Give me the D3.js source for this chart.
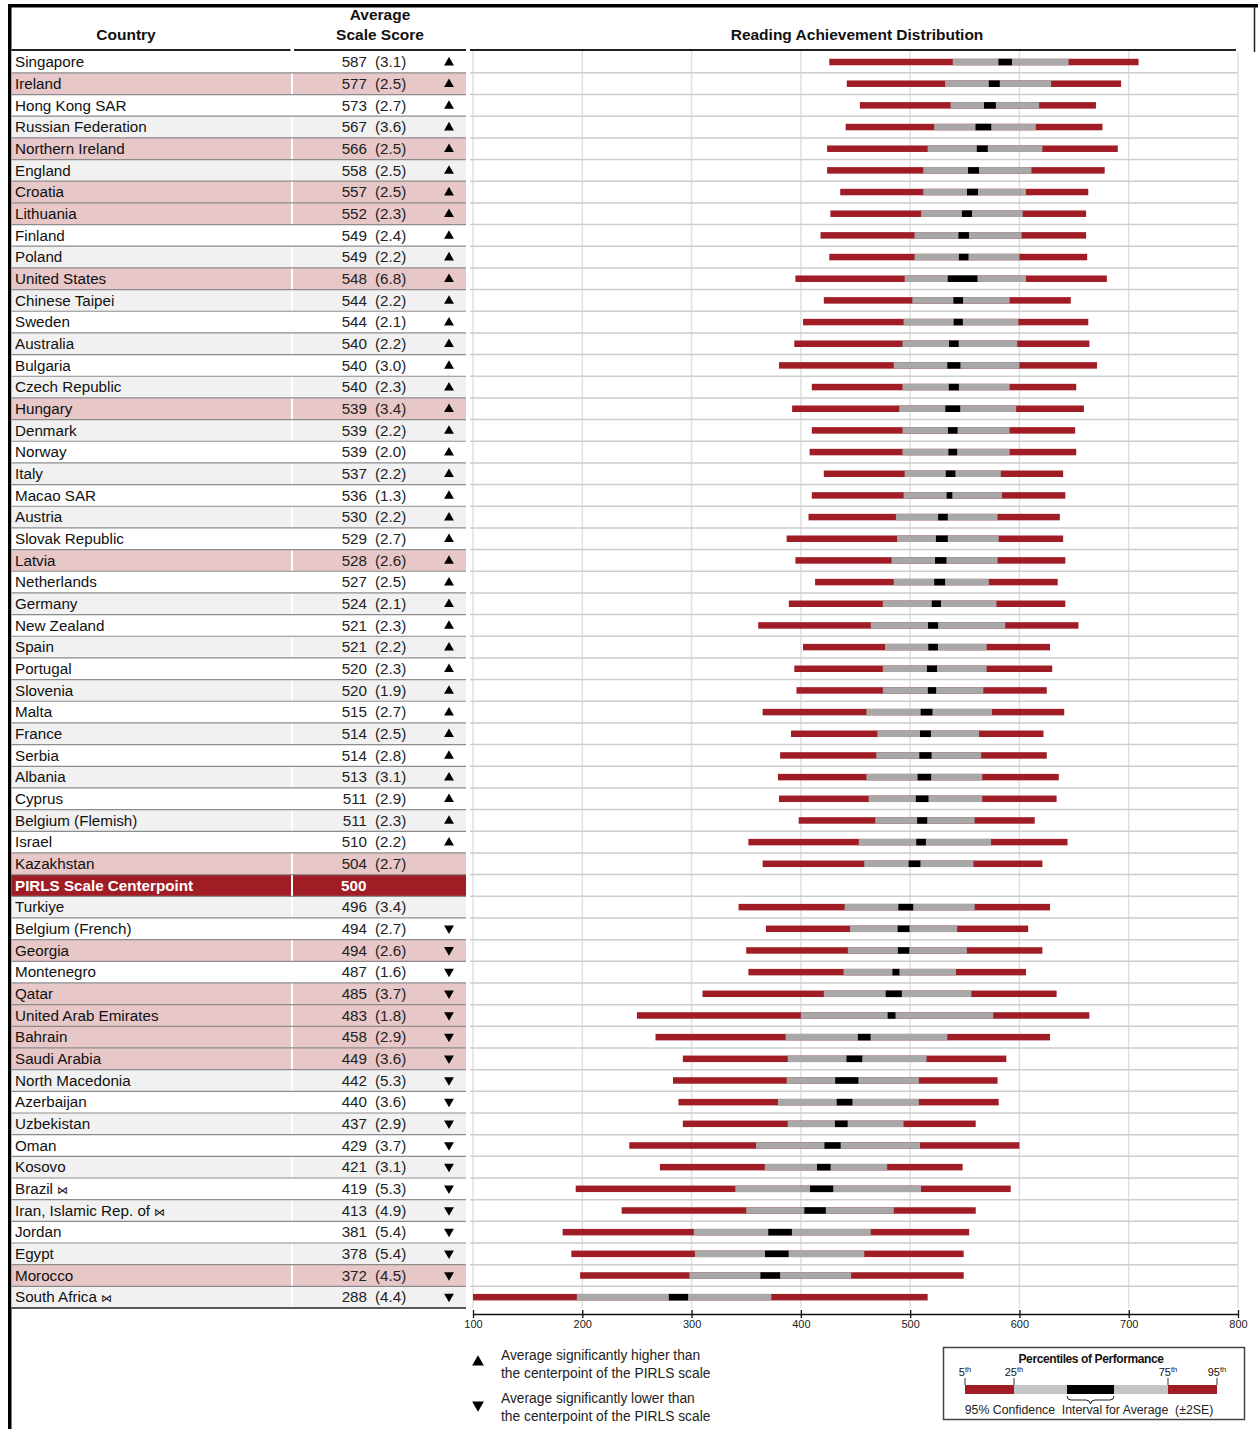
<!DOCTYPE html>
<html lang="en">
<head>
<meta charset="UTF-8">
<title>PIRLS Reading Achievement Distribution</title>
<script src="https://cdn.jsdelivr.net/npm/d3@7"></script>
<style>
  body { margin: 0; background: #fff; }
  text { font-family: "Liberation Sans", Arial, sans-serif; fill: #111; }
</style>
</head>
<body>
<svg id="chart" width="1258" height="1429"></svg>
<script>
// ---- data ----
const CENTER = "PIRLS Scale Centerpoint";
const BOWTIE = " \u22c8";
const countries = ["Singapore", "Ireland", "Hong Kong SAR", "Russian Federation", "Northern Ireland",
  "England", "Croatia", "Lithuania", "Finland", "Poland", "United States", "Chinese Taipei", "Sweden",
  "Australia", "Bulgaria", "Czech Republic", "Hungary", "Denmark", "Norway", "Italy", "Macao SAR",
  "Austria", "Slovak Republic", "Latvia", "Netherlands", "Germany", "New Zealand", "Spain", "Portugal",
  "Slovenia", "Malta", "France", "Serbia", "Albania", "Cyprus", "Belgium (Flemish)", "Israel",
  "Kazakhstan", CENTER, "Turkiye", "Belgium (French)", "Georgia", "Montenegro", "Qatar",
  "United Arab Emirates", "Bahrain", "Saudi Arabia", "North Macedonia", "Azerbaijan", "Uzbekistan",
  "Oman", "Kosovo", "Brazil \u22c8", "Iran, Islamic Rep. of \u22c8", "Jordan", "Egypt", "Morocco",
  "South Africa \u22c8"];
const means = [587, 577, 573, 567, 566, 558, 557, 552, 549, 549, 548, 544, 544, 540, 540, 540, 539, 539,
  539, 537, 536, 530, 529, 528, 527, 524, 521, 521, 520, 520, 515, 514, 514, 513, 511, 511, 510, 504,
  500, 496, 494, 494, 487, 485, 483, 458, 449, 442, 440, 437, 429, 421, 419, 413, 381, 378, 372, 288];
const ses = [3.1, 2.5, 2.7, 3.6, 2.5, 2.5, 2.5, 2.3, 2.4, 2.2, 6.8, 2.2, 2.1, 2.2, 3.0, 2.3, 3.4, 2.2,
  2.0, 2.2, 1.3, 2.2, 2.7, 2.6, 2.5, 2.1, 2.3, 2.2, 2.3, 1.9, 2.7, 2.5, 2.8, 3.1, 2.9, 2.3, 2.2, 2.7,
  null, 3.4, 2.7, 2.6, 1.6, 3.7, 1.8, 2.9, 3.6, 5.3, 3.6, 2.9, 3.7, 3.1, 5.3, 4.9, 5.4, 5.4, 4.5, 4.4];
const p5 = [426, 442, 454, 441, 424, 424, 436, 427, 418, 426, 395, 421, 402, 394, 380, 410, 392, 410,
  408, 421, 410, 407, 387, 395, 413, 389, 361, 402, 394, 396, 365, 391, 381, 379, 380, 398, 352, 365,
  null, 343, 368, 350, 352, 310, 250, 267, 292, 283, 288, 292, 243, 271, 194, 236, 182, 190, 198, 100];
const p25 = [539, 532, 537, 522, 516, 512, 512, 510, 504, 504, 495, 502, 494, 493, 485, 493, 490, 493,
  493, 495, 494, 487, 488, 483, 485, 475, 464, 477, 475, 475, 460, 470, 469, 460, 462, 468, 453, 458,
  null, 440, 445, 443, 439, 421, 400, 386, 388, 387, 379, 388, 359, 367, 340, 350, 302, 303, 298, 195];
const p75 = [645, 629, 618, 615, 621, 611, 606, 603, 602, 600, 606, 591, 599, 598, 600, 591, 597, 591,
  591, 583, 584, 580, 581, 580, 572, 579, 587, 570, 570, 567, 575, 563, 565, 566, 566, 559, 574, 558,
  null, 559, 543, 552, 542, 556, 576, 534, 515, 508, 508, 494, 509, 479, 510, 485, 464, 458, 446, 373];
const p95 = [709, 693, 670, 676, 690, 678, 663, 661, 661, 662, 680, 647, 663, 664, 671, 652, 659, 651,
  652, 640, 642, 637, 640, 642, 635, 642, 654, 628, 630, 625, 641, 622, 625, 636, 634, 614, 644, 621,
  null, 628, 608, 621, 606, 634, 664, 628, 588, 580, 581, 560, 600, 548, 592, 560, 554, 549, 549, 516];
// 1 = significantly higher than centerpoint, -1 = lower, 0 = not different
const sig = [1, 1, 1, 1, 1, 1, 1, 1, 1, 1, 1, 1, 1, 1, 1, 1, 1, 1, 1, 1, 1, 1, 1, 1, 1, 1, 1, 1, 1,
  1, 1, 1, 1, 1, 1, 1, 1, 0, 0, 0, -1, -1, -1, -1, -1, -1, -1, -1, -1, -1, -1, -1, -1, -1, -1, -1, -1, -1];
const highlighted = ["Ireland", "Northern Ireland", "Croatia", "Lithuania", "United States", "Hungary",
  "Latvia", "Kazakhstan", "Georgia", "Qatar", "United Arab Emirates", "Bahrain", "Saudi Arabia", "Morocco"];
const tickValues = [100, 200, 300, 400, 500, 600, 700, 800];

const RED = "#a01d25", GREY = "#a8a8a8", PINK = "#e7c7c8", STRIPE = "#f1f1f1";

const rows = countries.map((c, i) => ({
  name: c, i: i, mean: means[i], se: ses[i],
  p5: p5[i], p25: p25[i], p75: p75[i], p95: p95[i], sig: sig[i]
}));

const svg = d3.select("#chart");
const x = d3.scaleLinear().domain([100, 800]).range([473, 1238]);
const y = d3.scaleBand().domain(countries).range([51.2, 1308]);
const bh = y.bandwidth();
const cy = d => y(d.name) + bh / 2;
const isC = d => d.name === CENTER;

// frame
svg.append("rect").attr("x", 8).attr("y", 4).attr("width", 1250).attr("height", 3.5).attr("fill", "#000");
svg.append("rect").attr("x", 8).attr("y", 4).attr("width", 3.5).attr("height", 1425).attr("fill", "#000");
svg.append("line").attr("x1", 1254.5).attr("x2", 1254.5).attr("y1", 6).attr("y2", 52)
  .attr("stroke", "#222").attr("stroke-width", 1.5);

// table backgrounds
const bg = d => isC(d) ? RED : highlighted.includes(d.name) ? PINK : (d.i % 2 ? STRIPE : "#fff");
const bgG = svg.append("g").selectAll("g").data(rows).join("g");
bgG.append("rect").attr("x", 11.5).attr("y", d => y(d.name)).attr("width", 279.5).attr("height", bh)
  .attr("fill", bg);
bgG.append("rect").attr("x", 293).attr("y", d => y(d.name)).attr("width", 173).attr("height", bh)
  .attr("fill", bg);

// vertical grid lines in chart area
svg.append("g").selectAll("line").data(tickValues).join("line")
  .attr("x1", d => x(d)).attr("x2", d => x(d)).attr("y1", 51).attr("y2", 1308)
  .attr("stroke", "#e0e0e0").attr("stroke-width", 1.5);

// row separators
svg.append("g").selectAll("line").data(rows.slice(0, -1)).join("line")
  .attr("x1", 11.5).attr("x2", 466).attr("y1", d => y(d.name) + bh).attr("y2", d => y(d.name) + bh)
  .attr("stroke", "#8c8c8c").attr("stroke-width", 1.2);
svg.append("g").selectAll("line").data(rows.slice(0, -1)).join("line")
  .attr("x1", 470).attr("x2", 1238).attr("y1", d => y(d.name) + bh).attr("y2", d => y(d.name) + bh)
  .attr("stroke", "#cdcdcd").attr("stroke-width", 1.5);
svg.append("line").attr("x1", 11.5).attr("x2", 466).attr("y1", 1308).attr("y2", 1308)
  .attr("stroke", "#222").attr("stroke-width", 1.5);

// headers
const hdr = (tx, px, py) => svg.append("text").attr("x", px).attr("y", py).attr("dy", "0.35em")
  .attr("text-anchor", "middle").attr("font-size", 15.5).attr("font-weight", "bold").text(tx);
hdr("Country", 126, 35);
hdr("Average", 380, 15);
hdr("Scale Score", 380, 35);
hdr("Reading Achievement Distribution", 857, 35);
[[11.5, 290.5], [294, 466], [470, 1236]].forEach(s => {
  svg.append("line").attr("x1", s[0]).attr("x2", s[1]).attr("y1", 50).attr("y2", 50)
    .attr("stroke", "#222").attr("stroke-width", 2);
});

// table text + bars, drawn above the grid
const rowG = svg.append("g").selectAll("g").data(rows).join("g");
const nameT = rowG.append("text").attr("x", 15).attr("y", cy).attr("dy", "0.35em").attr("font-size", 15.2)
  .attr("font-weight", d => isC(d) ? "bold" : null)
  .style("fill", d => isC(d) ? "#fff" : "#111");
nameT.append("tspan").text(d => d.name.replace(BOWTIE, ""));
nameT.filter(d => d.name.endsWith(BOWTIE)).append("tspan").attr("font-size", 11)
  .attr("dx", 4).text("\u22c8");
rowG.append("text").attr("x", d => isC(d) ? 341 : 367).attr("y", cy).attr("dy", "0.35em")
  .attr("text-anchor", d => isC(d) ? "start" : "end").attr("font-size", 15.2)
  .attr("font-weight", d => isC(d) ? "bold" : null)
  .style("fill", d => isC(d) ? "#fff" : "#222")
  .text(d => d.mean);
rowG.filter(d => d.se != null).append("text").attr("x", 375).attr("y", cy).attr("dy", "0.35em")
  .attr("font-size", 15.2).style("fill", "#222").text(d => "(" + d.se.toFixed(1) + ")");

const tri = d3.symbol().type(d3.symbolTriangle).size(42);
rowG.filter(d => d.sig !== 0).append("path").attr("d", tri)
  .attr("transform", d => `translate(449,${cy(d) + (d.sig > 0 ? 0.5 : -0.5)}) rotate(${d.sig > 0 ? 0 : 180})`)
  .attr("fill", "#000");

// distribution bars
const bars = rowG.filter(d => d.p5 != null);
const H = 6.5;
bars.append("rect").attr("x", d => x(d.p5)).attr("width", d => x(d.p95) - x(d.p5))
  .attr("y", d => cy(d) - H / 2).attr("height", H).attr("fill", RED);
bars.append("rect").attr("x", d => x(d.p25)).attr("width", d => x(d.p75) - x(d.p25))
  .attr("y", d => cy(d) - H / 2).attr("height", H).attr("fill", GREY);
bars.append("rect").attr("x", d => x(d.mean - 2 * d.se)).attr("width", d => x(d.mean + 2 * d.se) - x(d.mean - 2 * d.se))
  .attr("y", d => cy(d) - H / 2).attr("height", H).attr("fill", "#000");

// axis
const axis = svg.append("g").attr("transform", "translate(0,1314)")
  .call(d3.axisBottom(x).tickValues(tickValues).tickSize(0).tickPadding(6));
axis.select(".domain").attr("stroke", "#111").attr("stroke-width", 1.6);
axis.selectAll(".tick line").attr("y1", -4).attr("y2", 4).attr("stroke", "#111").attr("stroke-width", 1.3);
axis.selectAll(".tick text").attr("font-size", 11)
  .style("font-family", '"Liberation Sans Narrow", "Liberation Sans", Arial, sans-serif').style("fill", "#222");

// legend: significance
const leg = svg.append("g");
[[1, 1362, "Average significantly higher than"], [-1, 1405, "Average significantly lower than"]].forEach(r => {
  leg.append("path").attr("d", d3.symbol().type(d3.symbolTriangle).size(60))
    .attr("transform", `translate(478,${r[1]}) rotate(${r[0] > 0 ? 0 : 180})`).attr("fill", "#000");
  leg.append("text").attr("x", 501).attr("y", r[1] - 7).attr("dy", "0.35em").attr("font-size", 13.8)
    .style("fill", "#222").text(r[2]);
  leg.append("text").attr("x", 501).attr("y", r[1] + 11).attr("dy", "0.35em").attr("font-size", 13.8)
    .style("fill", "#222").text("the centerpoint of the PIRLS scale");
});

// legend: percentiles box
const lb = svg.append("g");
lb.append("rect").attr("x", 943.5).attr("y", 1347.5).attr("width", 301).attr("height", 72)
  .attr("fill", "#fff").attr("stroke", "#444").attr("stroke-width", 1.5);
lb.append("text").attr("x", 1091).attr("y", 1359).attr("dy", "0.35em").attr("text-anchor", "middle")
  .attr("font-size", 12).attr("font-weight", "bold").attr("letter-spacing", -0.4).text("Percentiles of Performance");
const ly = 1385, lh = 9;
const segs = [[965, 1014, RED], [1014, 1067, "#c4c4c4"], [1067, 1114, "#000"], [1114, 1168, "#c4c4c4"], [1168, 1217, RED]];
segs.forEach(s => lb.append("rect").attr("x", s[0]).attr("y", ly).attr("width", s[1] - s[0]).attr("height", lh).attr("fill", s[2]));
[[965, "5"], [1014, "25"], [1168, "75"], [1217, "95"]].forEach(t => {
  lb.append("line").attr("x1", t[0]).attr("x2", t[0]).attr("y1", ly - 7).attr("y2", ly)
    .attr("stroke", "#333").attr("stroke-width", 1);
  const tx = lb.append("text").attr("x", t[0]).attr("y", 1376).attr("text-anchor", "middle").attr("font-size", 11);
  tx.append("tspan").text(t[1]);
  tx.append("tspan").attr("font-size", 7.5).attr("dy", -4).text("th");
});
lb.append("path").attr("d", "M1067,1396 Q1067,1400 1071,1400 L1086,1400 Q1090,1400 1090.5,1404 Q1091,1400 1095,1400 L1110,1400 Q1114,1400 1114,1396")
  .attr("fill", "none").attr("stroke", "#222").attr("stroke-width", 1);
lb.append("text").attr("x", 1089).attr("y", 1410).attr("dy", "0.35em").attr("text-anchor", "middle")
  .attr("font-size", 12.3).attr("xml:space", "preserve").style("fill", "#222")
  .text("95% Confidence  Interval for Average  (\u00b12SE)");
</script>
</body>
</html>
